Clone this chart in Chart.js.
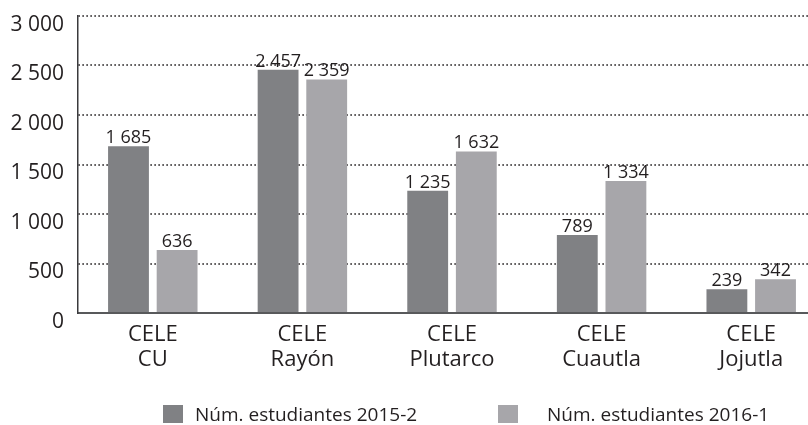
<!DOCTYPE html>
<html>
<head>
<meta charset="utf-8">
<script src="https://cdn.jsdelivr.net/npm/chart.js@4/dist/chart.umd.min.js"></script>
<style>
    html, body { margin: 0; padding: 0; background: #fff; }
    #wrap { position: relative; width: 808px; height: 425px; overflow: hidden; }
    #legend { position: absolute; left: 0; top: 405px; width: 808px; height: 20px; }
    .item { position: absolute; top: 0; display: flex; align-items: center; height: 18px;
            font: 19px "Open Sans"; color: #231f20; white-space: nowrap; }
    .item span.box { display: inline-block; width: 20px; height: 18px; }
    .item span.txt { line-height: 20px; }
</style>
</head>
<body>
<div id="wrap">
    <canvas id="chart" width="830" height="425"></canvas>
    <div id="legend"></div>
</div>
<script>
'use strict';

var categories = [['CELE', 'CU'], ['CELE', 'Rayón'], ['CELE', 'Plutarco'], ['CELE', 'Cuautla'], ['CELE', 'Jojutla']];
var series_names = ['Núm. estudiantes 2015-2', 'Núm. estudiantes 2016-1'];
var students_2015_2 = [1685, 2457, 1235, 789, 239];
var students_2016_1 = [636, 2359, 1632, 1334, 342];
var y_ticks = [0, 500, 1000, 1500, 2000, 2500, 3000];

var colors = ['#808184', '#a7a6aa'];
var ink = '#231f20';

// "1 685" style thousands separator
function fmt(v) {
    return String(v).replace(/\B(?=(\d{3})+(?!\d))/g, ' ');
}

var value_labels = {
    id: 'value_labels',
    afterDatasetsDraw: function(chart) {
        var ctx = chart.ctx;
        ctx.save();
        ctx.font = '18px "Open Sans"';
        ctx.fillStyle = ink;
        ctx.textAlign = 'center';
        ctx.textBaseline = 'alphabetic';
        chart.data.datasets.forEach(function(ds, di) {
            chart.getDatasetMeta(di).data.forEach(function(bar, i) {
                ctx.fillText(fmt(ds.data[i]), bar.x, bar.y - 3);
            });
        });
        ctx.restore();
    }
};

var chart = new Chart(document.getElementById('chart'), {
    type: 'bar',
    data: {
        labels: categories,
        datasets: [
            { label: series_names[0], data: students_2015_2, backgroundColor: colors[0] },
            { label: series_names[1], data: students_2016_1, backgroundColor: colors[1] }
        ]
    },
    options: {
        responsive: false,
        animation: false,
        devicePixelRatio: 1,
        categoryPercentage: 0.65,
        barPercentage: 0.84,
        layout: { padding: { top: 16, right: 4, left: 0, bottom: 0 } },
        plugins: {
            legend: { display: false },
            tooltip: { enabled: false }
        },
        scales: {
            x: {
                grid: { display: false, drawTicks: false },
                border: { display: true, color: '#58595b', width: 2 },
                ticks: {
                    color: ink,
                    padding: 9,
                    font: { family: 'Open Sans', size: 22, lineHeight: 1.15 },
                    maxRotation: 0
                },
                afterFit: function(scale) { scale.height = 112; }
            },
            y: {
                min: 0,
                max: 3000,
                afterBuildTicks: function(scale) {
                    scale.ticks = y_ticks.map(v => ({ value: v }));
                },
                grid: {
                    drawTicks: false,
                    lineWidth: 2,
                    color: ctx => ctx.tick && ctx.tick.value === 0 ? 'rgba(0,0,0,0)' : ink
                },
                border: { display: true, color: '#3a3a3c', width: 1.5, dash: [1.2, 2.8] },
                ticks: {
                    color: ink,
                    padding: 14,
                    labelOffset: 9,
                    font: { family: 'Open Sans', size: 21 },
                    callback: v => fmt(v)
                },
                afterFit: function(scale) {
                    scale.width = 78;
                    // tick padding otherwise pushes the plot down
                    scale.paddingTop = 0;
                    scale.paddingBottom = 0;
                }
            }
        }
    },
    plugins: [value_labels]
});

// html legend
var legend = document.getElementById('legend');
var legend_left = [163, 498];
var legend_gap = [12, 29];
series_names.forEach(function(name, i) {
    var item = document.createElement('div');
    item.className = 'item';
    item.style.left = legend_left[i] + 'px';
    item.innerHTML = '<span class="box" style="background:' + colors[i] + ';margin-right:' + legend_gap[i] + 'px"></span><span class="txt">' + name + '</span>';
    legend.appendChild(item);
});
</script>
</body>
</html>
